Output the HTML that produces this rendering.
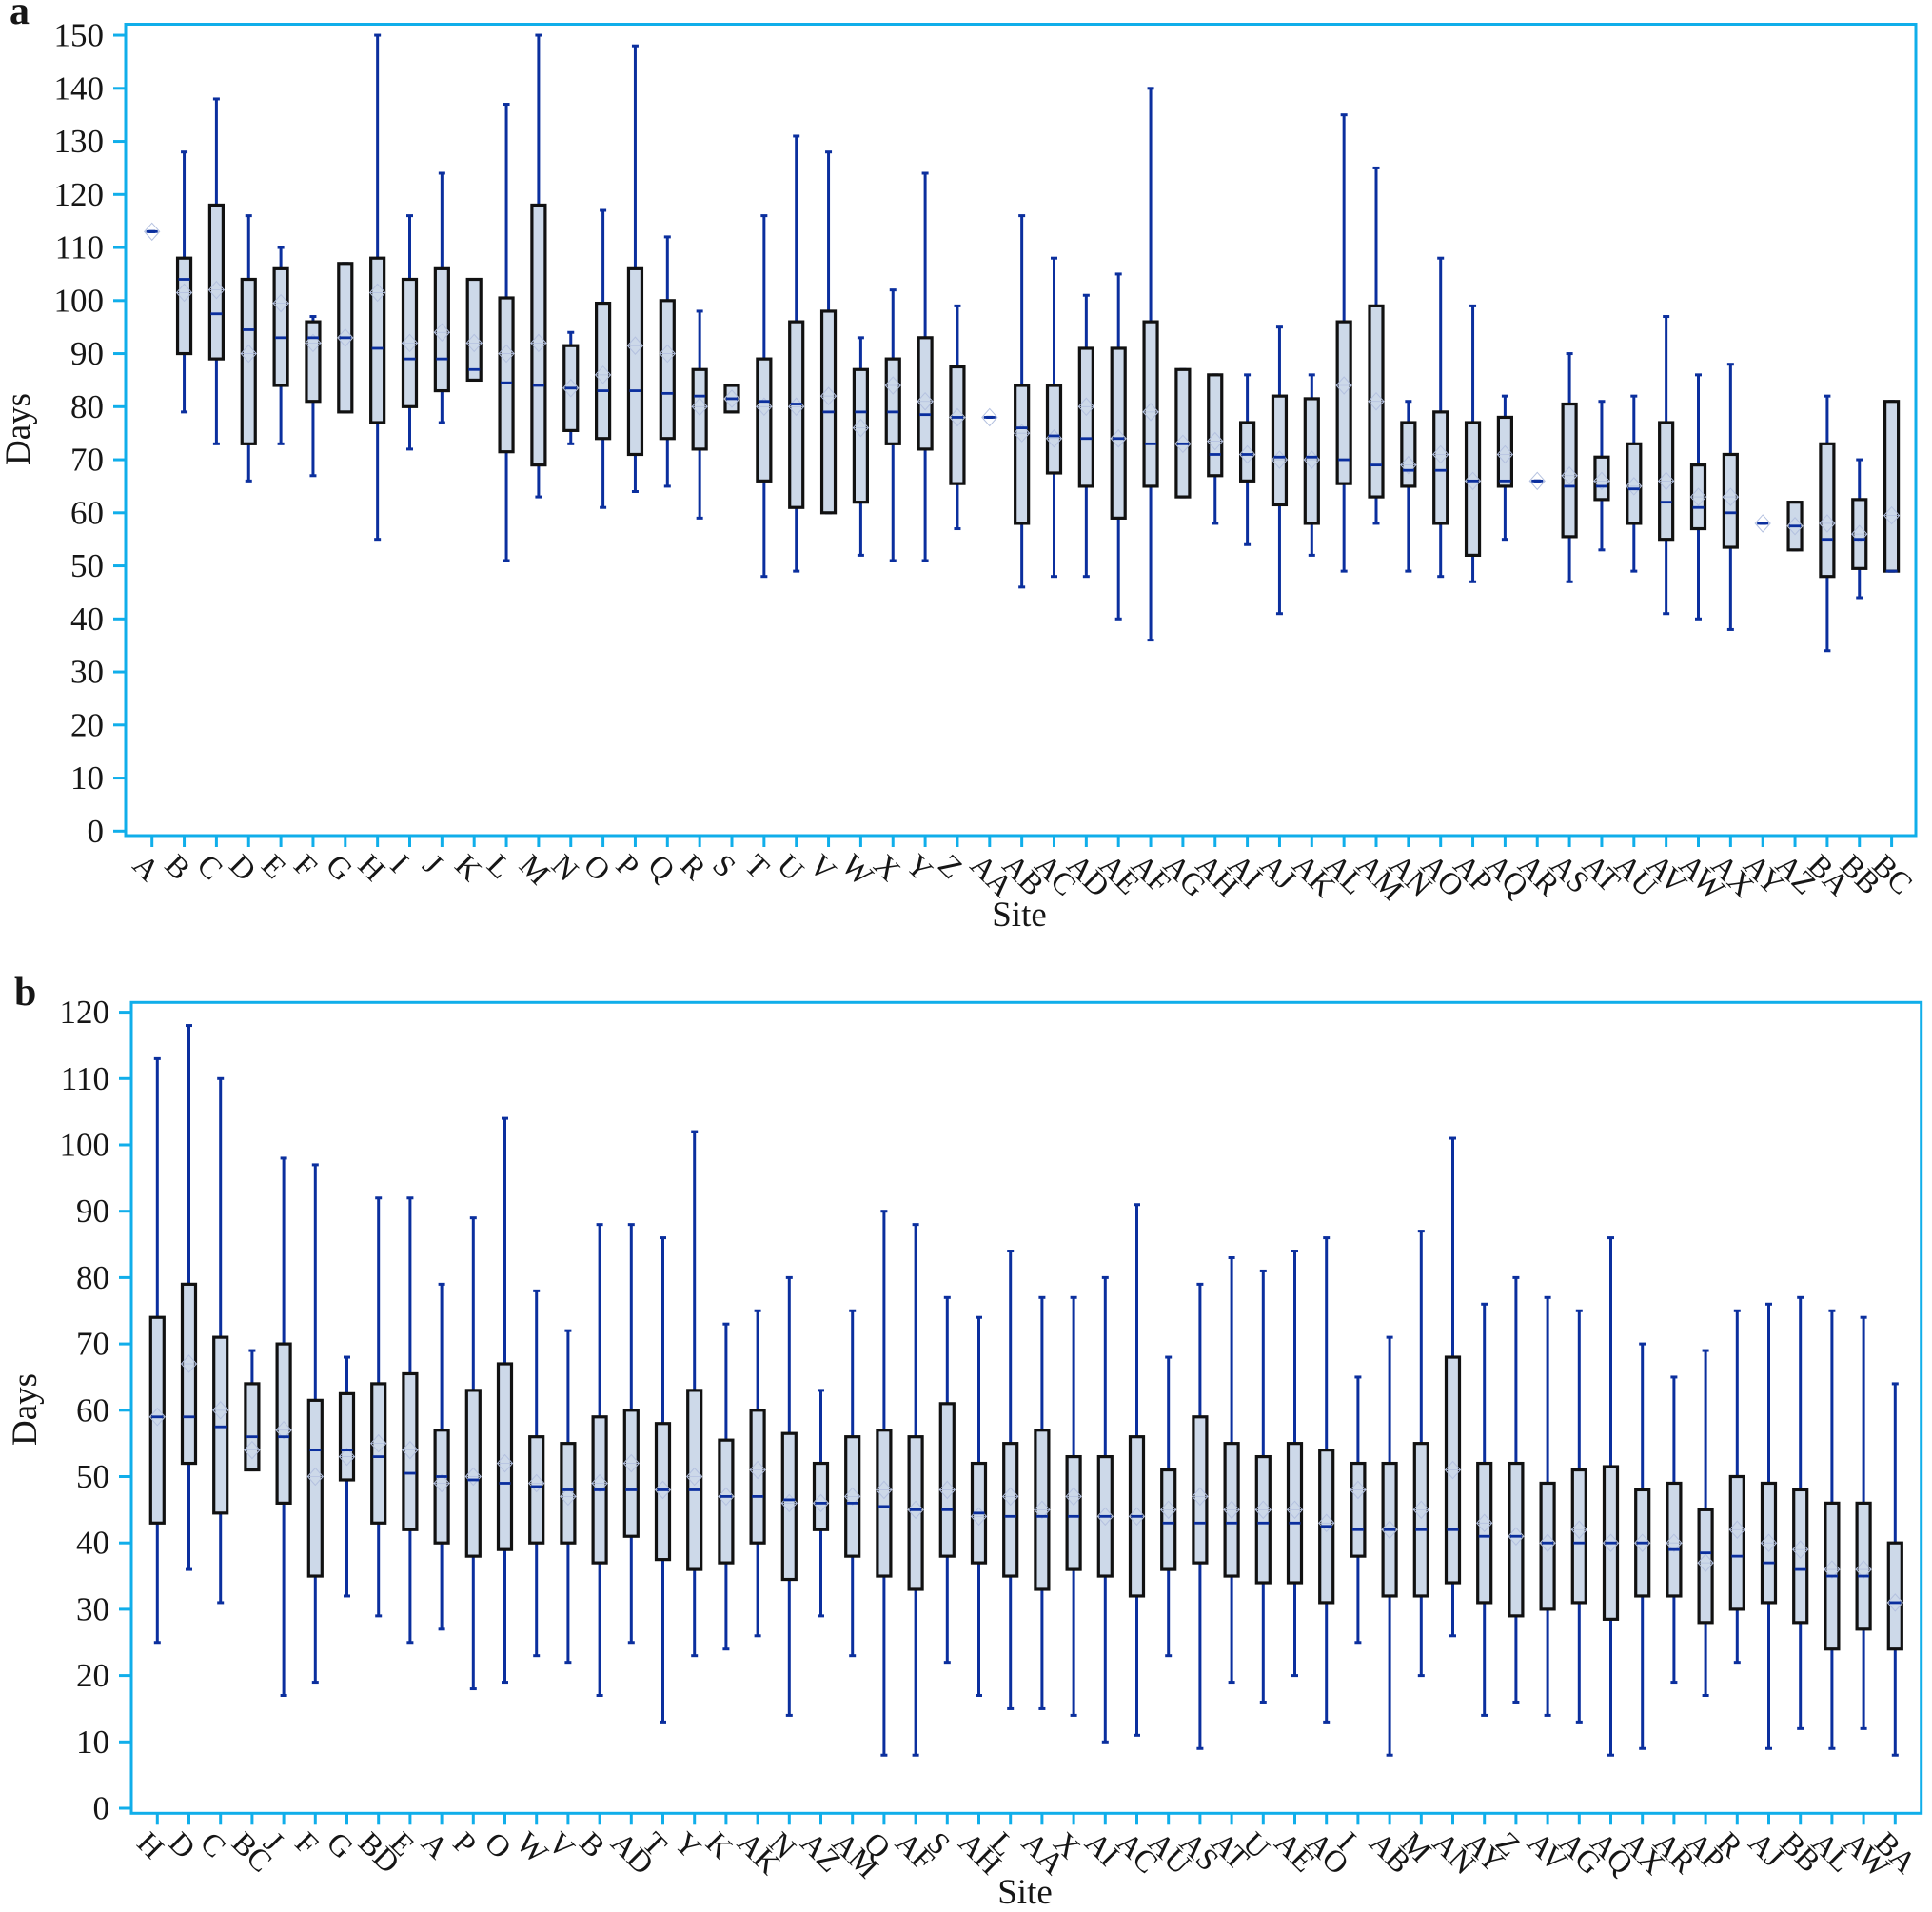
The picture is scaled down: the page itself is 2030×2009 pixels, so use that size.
<!DOCTYPE html>
<html lang="en">
<head>
<meta charset="utf-8">
<title>Days by site box plots</title>
<style>
html,body{margin:0;padding:0;background:#fff;}
svg{display:block;font-family:"Liberation Serif",serif;fill:#161616;}
</style>
</head>
<body>
<svg id="chart" xmlns="http://www.w3.org/2000/svg" width="2030" height="2009" viewBox="0 0 2030 2009">
<text x="10" y="25" font-size="42" font-weight="700">a</text>
<text x="15" y="1056" font-size="42" font-weight="700">b</text>
</svg>
<script>
const sitesA = ["A","B","C","D","E","F","G","H","I","J","K","L","M","N","O","P","Q","R","S","T","U","V","W","X","Y","Z","AA","AB","AC","AD","AE","AF","AG","AH","AI","AJ","AK","AL","AM","AN","AO","AP","AQ","AR","AS","AT","AU","AV","AW","AX","AY","AZ","BA","BB","BC"];
const minA = [113,79,73,66,73,67,79,55,72,77,85,51,63,73,61,64,65,59,79,48,49,60,52,51,51,57,78,46,48,48,40,36,63,58,54,41,52,49,58,49,48,47,55,66,47,53,49,41,40,38,58,53,34,44,49];
const q1A = [113,90,89,73,84,81,79,77,80,83,85,71.5,69,75.5,74,71,74,72,79,66,61,60,62,73,72,65.5,78,58,67.5,65,59,65,63,67,66,61.5,58,65.5,63,65,58,52,65,66,55.5,62.5,58,55,57,53.5,58,53,48,49.5,49];
const medianA = [113,104,97.5,94.5,93,93,93,91,89,89,87,84.5,84,83.5,83,83,82.5,82,81.5,81,80.5,79,79,79,78.5,78,78,76,74.5,74,74,73,73,71,71,70.5,70.5,70,69,68,68,66,66,66,65,65,64.5,62,61,60,58,57.5,55,55,49];
const q3A = [113,108,118,104,106,96,107,108,104,106,104,100.5,118,91.5,99.5,106,100,87,84,89,96,98,87,89,93,87.5,78,84,84,91,91,96,87,86,77,82,81.5,96,99,77,79,77,78,66,80.5,70.5,73,77,69,71,58,62,73,62.5,81];
const maxA = [113,128,138,116,110,97,107,150,116,124,104,137,150,94,117,148,112,98,84,116,131,128,93,102,124,99,78,116,108,101,105,140,87,86,86,95,86,135,125,81,108,99,82,66,90,81,82,97,86,88,58,62,82,70,81];
const meanA = [113,101.5,102,90,99.5,92,93,101.5,92,94,92,90,92,83.5,86,91.5,90,80,81.5,80,80,82,76,84,81,78,78,75,74,80,74,79,73,73.5,71,70,70,84,81,69,71,66,71,66,67,66,65,66,63,63,58,57.5,58,56,59.5];
const yTicksA = [0,10,20,30,40,50,60,70,80,90,100,110,120,130,140,150];

const sitesB = ["H","D","C","BC","J","F","G","BD","E","A","P","O","W","V","B","AD","T","Y","K","AK","N","AZ","AM","Q","AF","S","AH","L","AA","X","AI","AC","AU","AS","AT","U","AE","AO","I","AB","M","AN","AY","Z","AV","AG","AQ","AX","AR","AP","R","AJ","BB","AL","AW","BA"];
const minB = [25,36,31,51,17,19,32,29,25,27,18,19,23,22,17,25,13,23,24,26,14,29,23,8,8,22,17,15,15,14,10,11,23,9,19,16,20,13,25,8,20,26,14,16,14,13,8,9,19,17,22,9,12,9,12,8];
const q1B = [43,52,44.5,51,46,35,49.5,43,42,40,38,39,40,40,37,41,37.5,36,37,40,34.5,42,38,35,33,38,37,35,33,36,35,32,36,37,35,34,34,31,38,32,32,34,31,29,30,31,28.5,32,32,28,30,31,28,24,27,24];
const medianB = [59,59,57.5,56,56,54,54,53,50.5,50,49.5,49,48.5,48,48,48,48,48,47,47,46.5,46,46,45.5,45,45,44.5,44,44,44,44,44,43,43,43,43,43,42.5,42,42,42,42,41,41,40,40,40,40,39,38.5,38,37,36,35,35,31];
const q3B = [74,79,71,64,70,61.5,62.5,64,65.5,57,63,67,56,55,59,60,58,63,55.5,60,56.5,52,56,57,56,61,52,55,57,53,53,56,51,59,55,53,55,54,52,52,55,68,52,52,49,51,51.5,48,49,45,50,49,48,46,46,40];
const maxB = [113,118,110,69,98,97,68,92,92,79,89,104,78,72,88,88,86,102,73,75,80,63,75,90,88,77,74,84,77,77,80,91,68,79,83,81,84,86,65,71,87,101,76,80,77,75,86,70,65,69,75,76,77,75,74,64];
const meanB = [59,67,60,54,57,50,53,55,54,49,50,52,49,47,49,52,48,50,47,51,46,46,47,48,45,48,44,47,45,47,44,44,45,47,45,45,45,43,48,42,45,51,43,41,40,42,40,40,40,37,42,40,39,36,36,31];
const yTicksB = [0,10,20,30,40,50,60,70,80,90,100,110,120];

const SVG_NS = "http://www.w3.org/2000/svg";
const svg = document.getElementById("chart");
const FRAME = "#10aeea";
const WHISKER = "#0b2f9e";
const MEDIAN = "#0b2f9e";
const BOX_FILL = "#cdd9e9";
const DIAMOND = "#b4c1e0";

function make(tag, parent) {
  const el = document.createElementNS(SVG_NS, tag);
  parent.appendChild(el);
  return el;
}
function set(el, attrs) {
  for (const k in attrs) el.setAttribute(k, attrs[k]);
  return el;
}

function drawPanel(p, sites, mins, q1s, medians, q3s, maxs, means, yTicks) {
  const g = make("g", svg);
  
  

  const yScale = v => p.y0 - p.yUnit * v;
  const xScale = i => p.x0 + p.xStep * i;

  const frame = make("rect", g);
  set(frame, {x:p.left, y:p.top, width:p.right - p.left, height:p.bottom - p.top, fill:"none", stroke:FRAME, "stroke-width":3});
  
  

  yTicks.forEach(t => {
    const tick = make("line", g);
    set(tick, {x1:p.left - 13, x2:p.left, y1:yScale(t), y2:yScale(t), stroke:FRAME, "stroke-width":3});
    
    
    const label = make("text", g);
    set(label, {x:p.left - 23, y:yScale(t) + 11.5, "font-size":35, "text-anchor":"end"});
    label.textContent = t;
    
    
  });

  sites.forEach((s, i) => {
    const x = xScale(i);
    const tick = make("line", g);
    set(tick, {x1:x, x2:x, y1:p.bottom, y2:p.bottom + 12, stroke:FRAME, "stroke-width":3});
    
    
    const label = make("text", g);
    const lx = x - p.labelDx;
    const ly = p.bottom + 33;
    set(label, {x:lx, y:ly, "font-size":32.5, transform:"rotate(45 " + lx + " " + ly + ")"});
    label.textContent = s;
    
    

    const box = make("g", g);
    
    

    const whiskerLine = make("line", box);
    set(whiskerLine, {x1:x, x2:x, y1:yScale(maxs[i]), y2:yScale(mins[i]), stroke:WHISKER, "stroke-width":3});
    
    

    [maxs[i], mins[i]].forEach(v => {
      const cap = make("line", box);
      set(cap, {x1:x - 3.5, x2:x + 3.5, y1:yScale(v), y2:yScale(v), stroke:WHISKER, "stroke-width":3});
      
      
    });

    if (q3s[i] > q1s[i]) {
      const rect = make("rect", box);
      set(rect, {x:x - 7, y:yScale(q3s[i]), width:14, height:yScale(q1s[i]) - yScale(q3s[i]), fill:BOX_FILL, stroke:"#111", "stroke-width":3.2});
      
      
    }

    const my = yScale(means[i]);
    const diamond = make("path", box);
    set(diamond, {d:"M" + (x - 8) + " " + my + "L" + x + " " + (my - 9) + "L" + (x + 8) + " " + my + "L" + x + " " + (my + 9) + "Z", fill:"none", stroke:DIAMOND, "stroke-width":1});
    
    
    const meanLine = make("line", box);
    set(meanLine, {x1:x - 8, x2:x + 8, y1:my, y2:my, stroke:DIAMOND, "stroke-width":0.8});
    
    

    const med = make("line", box);
    set(med, {x1:x - 6, x2:x + 6, y1:yScale(medians[i]), y2:yScale(medians[i]), stroke:MEDIAN, "stroke-width":2.8});
    
    
  });

  const yTitle = make("text", g);
  set(yTitle, {x:p.yTitleX, y:p.yTitleY, "font-size":37, "text-anchor":"middle", transform:"rotate(-90 " + p.yTitleX + " " + p.yTitleY + ")"});
  yTitle.textContent = "Days";
  
  

  const xTitle = make("text", g);
  set(xTitle, {x:p.xTitleX, y:p.xTitleY, "font-size":37, "text-anchor":"middle"});
  xTitle.textContent = "Site";
  
  
}

drawPanel({name:"panel-a", left:132, right:2013, top:25.5, bottom:878, y0:873.3, yUnit:5.575, x0:159.7, xStep:33.85, labelDx:22, yTitleX:31, yTitleY:451, xTitleX:1071, xTitleY:973},
  sitesA, minA, q1A, medianA, q3A, maxA, meanA, yTicksA);
drawPanel({name:"panel-b", left:138, right:2018.7, top:1053.3, bottom:1905.3, y0:1900, yUnit:6.97, x0:165.3, xStep:33.2, labelDx:23, yTitleX:38, yTitleY:1481, xTitleX:1077, xTitleY:2000},
  sitesB, minB, q1B, medianB, q3B, maxB, meanB, yTicksB);
</script>
</body>
</html>
